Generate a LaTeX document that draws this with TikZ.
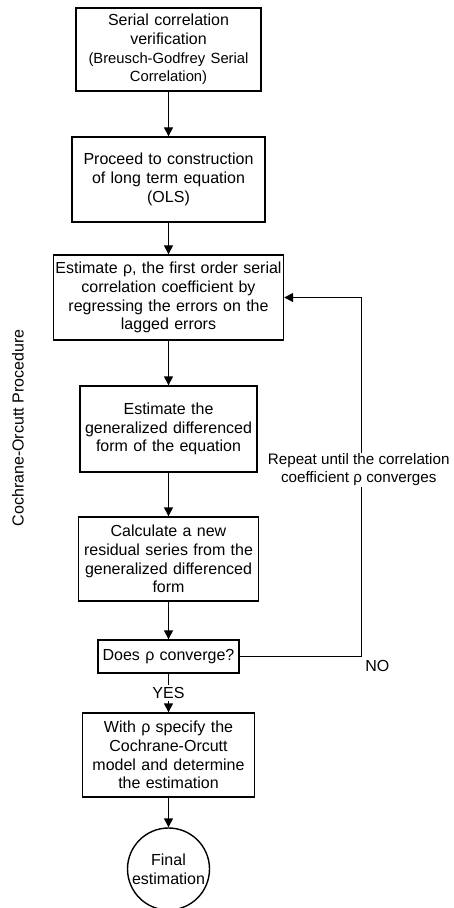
\documentclass[tikz,border=0pt]{standalone}
\usepackage{fontspec}
\setmainfont{Liberation Sans}
\usepackage{tikz}
\usepackage{xcolor}
\usetikzlibrary{shapes.geometric, arrows.meta}
\tikzstyle{every node}=[font=\fontsize{8}{9.4}\selectfont]
\tikzstyle{block} = [rectangle, draw, line width=0.7pt, text centered, inner sep=0.5pt]
\tikzstyle{endcircle} = [circle, draw, line width=0.7pt, align=center, inner sep=0pt, minimum size=41pt]
\tikzstyle{line} = [draw, line width=0.7pt, -{Triangle[length=4.5pt,width=4.5pt]}]

\begin{document}
\begin{tikzpicture}
    \useasboundingbox (0,0) rectangle (227pt,-454pt);
    % Place nodes
    \node [block, text width=91.5pt, minimum height=41.5pt] (verify) at (84.25pt,-24.75pt)
        {Serial correlation\\ verification\\ {\fontsize{7.4}{9.4}\selectfont (Breusch-Godfrey Serial\\ Correlation)}};
    \node [block, text width=95.5pt, minimum height=42.5pt, below of=verify, node distance=65pt] (ols)
        {Proceed to construction\\ of long term equation\\ (OLS)};
    \node [block, text width=114pt, minimum height=42.5pt, below of=ols, node distance=59pt] (estrho)
        {\hbox{Estimate ρ, the first order serial}\\ correlation coefficient by\\ regressing the errors on the\\ lagged errors};
    \node [block, text width=87.5pt, minimum height=43pt, below of=estrho, node distance=65.75pt] (gendiff)
        {Estimate the\\ generalized differenced\\ form of the equation};
    \node [block, text width=89pt, minimum height=42pt, below of=gendiff, node distance=65pt] (resid)
        {Calculate a new\\ residual series from the\\ generalized differenced\\ form};
    \node [block, text width=69.5pt, minimum height=16.5pt, below of=resid, node distance=48.75pt] (converge)
        {Does ρ converge?};
    \node [block, text width=85pt, minimum height=42pt, below of=converge, node distance=49.25pt] (specify)
        {With ρ specify the\\ Cochrane-Orcutt\\ model and determine\\ the estimation};
    \node [endcircle, below of=specify, node distance=57pt] (final) {Final\\ estimation};
    \node [rotate=90] (procedure) at (9pt,-214pt) {Cochrane-Orcutt Procedure};
    % Draw edges
    \path [line] (verify) -- (ols);
    \path [line] (ols) -- (estrho);
    \path [line] (estrho) -- (gendiff);
    \path [line] (gendiff) -- (resid);
    \path [line] (resid) -- (converge);
    \path [line] (converge) -- node [fill=white, inner sep=1pt] (yes) {YES} (specify);
    \path [line] (specify) -- (final);
    \path [line] (converge.east) -- ++(61pt,0) node [below right, inner sep=1.5pt] (no) {NO}
        |- node [pos=0.26, xshift=-1.5pt, fill=white, align=center, inner sep=0.5pt,
                 font=\fontsize{7.6}{9.2}\selectfont] (repeat)
           {Repeat until the correlation\\ coefficient ρ converges} (estrho.east);
\end{tikzpicture}
\end{document}
